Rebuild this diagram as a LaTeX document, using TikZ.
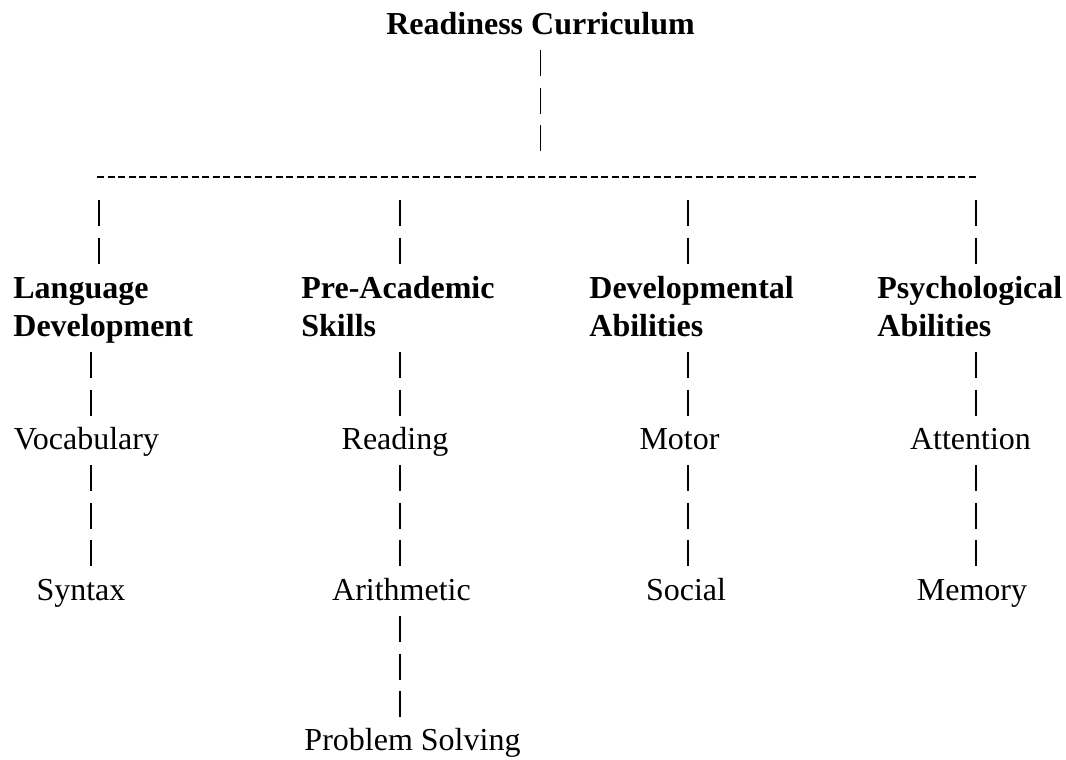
\documentclass[tikz,border=0pt]{standalone}
\usepackage{fontspec}
\setmainfont{Liberation Serif}
\usepackage{tikz}
\pgfdeclarelayer{nodelayer}
\pgfdeclarelayer{edgelayer}
\pgfsetlayers{edgelayer,nodelayer,main}
\tikzstyle{title}=[font=\fontsize{16}{19}\selectfont\bfseries, inner sep=0pt, anchor=base]
\tikzstyle{heading}=[font=\fontsize{16}{19}\selectfont\bfseries, inner sep=0pt, anchor=base west, align=left]
\tikzstyle{item}=[font=\fontsize{16}{19}\selectfont, inner sep=0pt, anchor=base]
\tikzstyle{bars}=[line width=0.6pt, dash pattern=on 13pt off 5.75pt]
\tikzstyle{hyphens}=[line width=1pt, dash pattern=on 3.65pt off 1.6pt]
\tikzstyle{from text}=[shorten <=8pt]
\tikzstyle{from rule}=[shorten <=11.5pt]
\tikzstyle{to text}=[shorten >=16.5pt]
\tikzstyle{to heading}=[shorten >=35.5pt]
\tikzstyle{to rule}=[shorten >=12.5pt]

\begin{document}
\begin{tikzpicture}[x=0.5pt, y=-0.5pt]
    	\useasboundingbox (0, 0) rectangle (1066, 760);
    	\begin{pgfonlayer}{nodelayer}
    		\node [style=title] (top) at (540.5, 34) {Readiness Curriculum};
    		\node [style=heading] (lang) at (13, 336) {Language\\Development};
    		\node [style=heading] (pre) at (301, 336) {Pre-Academic\\Skills};
    		\node [style=heading] (dev) at (589, 336) {Developmental\\Abilities};
    		\node [style=heading] (psy) at (877, 336) {Psychological\\Abilities};
    		\node [style=item] (vocab) at (86.5, 449) {Vocabulary};
    		\node [style=item] (read) at (395, 449) {Reading};
    		\node [style=item] (motor) at (679.5, 449) {Motor};
    		\node [style=item] (attn) at (970.5, 449) {Attention};
    		\node [style=item] (syntax) at (81, 600) {Syntax};
    		\node [style=item] (arith) at (401.5, 600) {Arithmetic};
    		\node [style=item] (social) at (686, 600) {Social};
    		\node [style=item] (memory) at (972, 600) {Memory};
    		\node [style=item] (solve) at (412.5, 750) {Problem Solving};
    	\end{pgfonlayer}
    	\begin{pgfonlayer}{edgelayer}
    		% the rule and where the four stems leave it
    		\coordinate (ruleL) at (97, 177);
    		\coordinate (ruleR) at (975.5, 177);
    		\coordinate (c1) at (99, 177);
    		\coordinate (c1b) at (91, 177);
    		\coordinate (c2) at (400, 177);
    		\coordinate (c3) at (688, 177);
    		\coordinate (c4) at (976, 177);
    		\draw [style=hyphens] (ruleL) to (ruleR);
    		\draw [style=bars, style=from text, style=to rule] (top.base) to (top.base |- ruleL);
    		\draw [style=bars, style=from rule, style=to heading] (c1) to (c1 |- lang.base);
    		\draw [style=bars, style=from rule, style=to heading] (c2) to (c2 |- pre.base);
    		\draw [style=bars, style=from rule, style=to heading] (c3) to (c3 |- dev.base);
    		\draw [style=bars, style=from rule, style=to heading] (c4) to (c4 |- psy.base);
    		\draw [style=bars, style=from text, style=to text] (lang.base -| c1b) to (c1b |- vocab.base);
    		\draw [style=bars, style=from text, style=to text] (pre.base -| c2) to (c2 |- read.base);
    		\draw [style=bars, style=from text, style=to text] (dev.base -| c3) to (c3 |- motor.base);
    		\draw [style=bars, style=from text, style=to text] (psy.base -| c4) to (c4 |- attn.base);
    		\draw [style=bars, style=from text, style=to text] (vocab.base -| c1b) to (c1b |- syntax.base);
    		\draw [style=bars, style=from text, style=to text] (read.base -| c2) to (c2 |- arith.base);
    		\draw [style=bars, style=from text, style=to text] (motor.base -| c3) to (c3 |- social.base);
    		\draw [style=bars, style=from text, style=to text] (attn.base -| c4) to (c4 |- memory.base);
    		\draw [style=bars, style=from text, style=to text] (arith.base -| c2) to (c2 |- solve.base);
    	\end{pgfonlayer}
\end{tikzpicture}
\end{document}
